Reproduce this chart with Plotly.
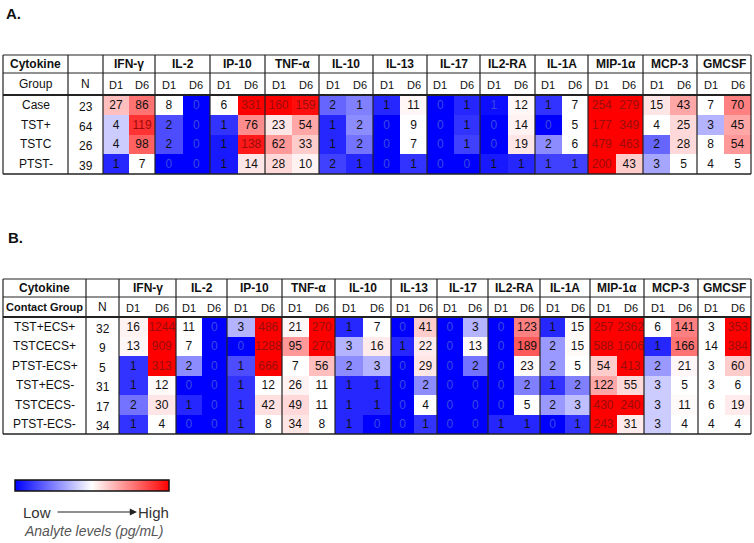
import plotly.graph_objects as go

# ---------------- data ----------------
cytokines = ["IFN-γ", "IL-2", "IP-10", "TNF-α", "IL-10", "IL-13", "IL-17",
             "IL2-RA", "IL-1A", "MIP-1α", "MCP-3", "GMCSF"]
days = ["D1", "D6"]

a_groups = ["Case", "TST+", "TSTC", "PTST-"]
a_n = [23, 64, 26, 39]
a_values = [
    [27, 86, 8, 0, 6, 331, 160, 159, 2, 1, 1, 11, 0, 1, 1, 12, 1, 7, 254, 279, 15, 43, 7, 70],
    [4, 119, 2, 0, 1, 76, 23, 54, 1, 2, 0, 9, 0, 1, 0, 14, 0, 5, 177, 349, 4, 25, 3, 45],
    [4, 98, 2, 0, 1, 138, 62, 33, 1, 2, 0, 7, 0, 1, 0, 19, 2, 6, 479, 463, 2, 28, 8, 54],
    [1, 7, 0, 0, 1, 14, 28, 10, 2, 1, 0, 1, 0, 0, 1, 1, 1, 1, 200, 43, 3, 5, 4, 5],
]
# colour level (-1 = blue/low, 0 = white, 1 = red/high)
a_levels = [
    [0.25, 0.55, 0, -1, 0, 1, 1, 0.95, -0.6, -0.5, -0.85, 0.03, -1, -0.85, -0.95, 0.03, -0.8, 0, 1, 1, 0.1, 0.35, 0, 0.5],
    [-0.2, 0.8, -0.7, -1, -0.8, 0.45, 0.1, 0.35, -0.85, -0.45, -1, 0, -1, -0.8, -1, 0.05, -1, 0, 1, 1, 0, 0.15, -0.3, 0.35],
    [-0.2, 0.62, -0.7, -1, -0.9, 0.9, 0.4, 0.2, -0.85, -0.55, -1, 0, -1, -0.75, -1, 0.1, -0.45, 0, 1, 1, -0.6, 0.15, 0, 0.4],
    [-0.85, 0, -1, -1, -0.9, 0.1, 0.15, 0.05, -0.75, -0.85, -1, -0.8, -1, -1, -0.9, -0.85, -0.75, -0.75, 1, 0.2, -0.35, 0, 0, 0],
]

b_groups = ["TST+ECS+", "TSTCECS+", "PTST-ECS+", "TST+ECS-", "TSTCECS-", "PTST-ECS-"]
b_n = [32, 9, 5, 31, 17, 34]
b_values = [
    [16, 1244, 11, 0, 3, 486, 21, 270, 1, 7, 0, 41, 0, 3, 0, 123, 1, 15, 257, 2362, 6, 141, 3, 353],
    [13, 909, 7, 0, 0, 1288, 95, 270, 3, 16, 1, 22, 0, 13, 0, 189, 2, 15, 588, 1606, 1, 166, 14, 384],
    [1, 313, 2, 0, 1, 666, 7, 56, 2, 3, 0, 29, 0, 2, 0, 23, 2, 5, 54, 413, 2, 21, 3, 60],
    [1, 12, 0, 0, 1, 12, 26, 11, 1, 1, 0, 2, 0, 0, 0, 2, 1, 2, 122, 55, 3, 5, 3, 6],
    [2, 30, 1, 0, 1, 42, 49, 11, 1, 1, 0, 4, 0, 0, 0, 5, 2, 3, 430, 240, 3, 11, 6, 19],
    [1, 4, 0, 0, 1, 8, 34, 8, 1, 0, 0, 1, 0, 0, 1, 1, 0, 1, 243, 31, 3, 4, 4, 4],
]
b_levels = [
    [0.05, 1, 0, -1, -0.3, 1, 0.03, 1, -0.85, 0, -1, 0.2, -1, -0.3, -1, 0.5, -0.85, 0.02, 1, 1, 0, 0.5, 0, 1],
    [0.03, 1, 0, -1, -1, 1, 0.4, 1, -0.3, 0.08, -0.85, 0.08, -1, 0.02, -1, 0.65, -0.4, 0.02, 1, 1, -0.85, 0.55, 0, 1],
    [-0.8, 1, -0.45, -1, -0.7, 1, 0, 0.25, -0.45, -0.3, -1, 0.1, -1, -0.55, -1, 0.02, -0.4, 0, 0.2, 1, -0.4, 0.03, 0, 0.2],
    [-0.8, 0.02, -1, -1, -0.8, 0, 0.05, 0, -0.85, -0.85, -1, -0.45, -1, -1, -1, -0.5, -0.8, -0.5, 0.35, 0.15, -0.2, 0, 0, 0],
    [-0.55, 0.1, -0.85, -1, -0.8, 0.12, 0.15, 0, -0.85, -0.85, -1, 0, -1, -1, -1, 0, -0.4, -0.25, 1, 1, -0.2, 0.02, 0, 0.08],
    [-0.8, 0, -1, -1, -0.8, 0, 0.1, 0, -0.85, -1, -1, -0.8, -1, -1, -0.85, -0.85, -1, -0.8, 1, 0.08, -0.2, 0, 0, 0],
]

# ---------------- layout geometry (pixels) ----------------
W, H = 754, 543
FONT = "Arial, Liberation Sans, sans-serif"

A_COLS = [3, 68, 103, 155, 210, 265, 319, 373, 427, 480, 535, 588, 643, 697, 751]
A_TOP, A_H1, A_H2, A_BOT = 55, 73, 95, 174
B_COLS = [3, 86, 119, 176, 227, 282, 335, 391, 437, 488, 540, 590, 644, 698, 751]
B_TOP, B_H1, B_H2, B_BOT = 279, 297, 317, 434

fig = go.Figure()
shapes = []
annotations = []


def line(x0, y0, x1, y1, w=1.2, c="#222"):
    shapes.append(dict(type="line", xref="x", yref="y", x0=x0, y0=y0, x1=x1, y1=y1,
                       line=dict(color=c, width=w)))


def text(x, y, s, size=12, bold=False, color="#111", xanchor="center", italic=False):
    if bold:
        s = "<b>" + s + "</b>"
    if italic:
        s = "<i>" + s + "</i>"
    annotations.append(dict(x=x, y=y, xref="x", yref="y", text=s, showarrow=False,
                            xanchor=xanchor, yanchor="middle",
                            font=dict(family=FONT, size=size, color=color)))


def draw_table(cols, top, h1, h2, bot, groups, ns, values, levels, group_label):
    nrows = len(groups)
    # cell edges
    xedges = [cols[2]]
    for i in range(len(cytokines)):
        xedges += [(cols[2 + i] + cols[3 + i]) / 2, cols[3 + i]]
    step = (bot - h2) / nrows
    yedges = [h2 + step * r for r in range(nrows + 1)]

    fig.add_trace(go.Heatmap(
        x=xedges, y=yedges, z=levels, coloraxis="coloraxis",
        hoverinfo="skip", showscale=False))

    # cell numbers
    xs, ys, ts, cs = [], [], [], []
    for r in range(nrows):
        for c in range(len(xedges) - 1):
            xs.append((xedges[c] + xedges[c + 1]) / 2)
            ys.append((yedges[r] + yedges[r + 1]) / 2 + 1)
            ts.append(str(values[r][c]))
            lv = levels[r][c]
            cs.append("#9a0c0c" if lv >= 0.75 else ("#3a4ae0" if lv <= -0.95 else "#111"))
    fig.add_trace(go.Scatter(x=xs, y=ys, text=ts, mode="text", hoverinfo="skip",
                             textfont=dict(family=FONT, size=12, color=cs),
                             showlegend=False))

    # header texts
    text((cols[0] + cols[1]) / 2, (top + h1) / 2, "Cytokine", 12, bold=True)
    text((cols[0] + cols[1]) / 2, (h1 + h2) / 2,
         group_label[0], 11 if group_label[1] else 12, bold=group_label[1])
    text((cols[1] + cols[2]) / 2, (h1 + h2) / 2, "N", 12)
    for i, name in enumerate(cytokines):
        text((cols[2 + i] + cols[3 + i]) / 2, (top + h1) / 2, name, 12, bold=True)
    for c in range(len(xedges) - 1):
        text((xedges[c] + xedges[c + 1]) / 2, (h1 + h2) / 2 + 1, days[c % 2], 11)
    for r in range(nrows):
        yc = (yedges[r] + yedges[r + 1]) / 2
        text((cols[0] + cols[1]) / 2, yc, groups[r], 12)
        text((cols[1] + cols[2]) / 2, yc + 2, str(ns[r]), 12)

    # borders
    line(cols[0], top, cols[-1], top, 1.2)
    line(cols[0], bot, cols[-1], bot, 1.6)
    line(cols[0], h1, cols[-1], h1, 1.0)
    line(cols[0], h2, cols[-1], h2, 2.0)
    for x in cols:
        line(x, top, x, bot, 1.2)


draw_table(A_COLS, A_TOP, A_H1, A_H2, A_BOT, a_groups, a_n, a_values, a_levels, ("Group", False))
draw_table(B_COLS, B_TOP, B_H1, B_H2, B_BOT, b_groups, b_n, b_values, b_levels, ("Contact Group", True))

# panel labels
text(4, 13, "A.", 15, bold=True, xanchor="left")
text(6, 237, "B.", 15, bold=True, xanchor="left")

# legend text and arrow
text(21, 512, "Low", 15, color="#333", xanchor="left")
text(136, 512, "High", 15, color="#333", xanchor="left")
text(22, 531, "Analyte levels (pg/mL)", 14, color="#555", xanchor="left", italic=True)
annotations.append(dict(x=137, y=512, ax=56, ay=512, xref="x", yref="y", axref="x", ayref="y",
                        text="", showarrow=True, arrowhead=2, arrowsize=1.2,
                        arrowwidth=1.2, arrowcolor="#222"))

fig.update_layout(
    width=W, height=H,
    margin=dict(l=0, r=0, t=0, b=0),
    paper_bgcolor="white", plot_bgcolor="white",
    showlegend=False,
    xaxis=dict(range=[0, W], visible=False, fixedrange=True, domain=[0, 1]),
    yaxis=dict(range=[H, 0], visible=False, fixedrange=True, domain=[0, 1]),
    coloraxis=dict(
        cmin=-1, cmax=1,
        colorscale=[[0, "#0000ff"], [0.5, "#ffffff"], [1, "#ff0000"]],
        colorbar=dict(orientation="h", x=15 / W, xanchor="left",
                      y=1 - 480 / H, yanchor="top",
                      lenmode="pixels", len=154, thickness=11,
                      xpad=0, ypad=0, outlinewidth=1.5, outlinecolor="#111",
                      showticklabels=False, ticks=""),
    ),
    shapes=shapes,
    annotations=annotations,
)

fig.write_html("out.html", config={"displayModeBar": False},
               post_script="document.body.style.margin='0';document.body.style.overflow='hidden';")
